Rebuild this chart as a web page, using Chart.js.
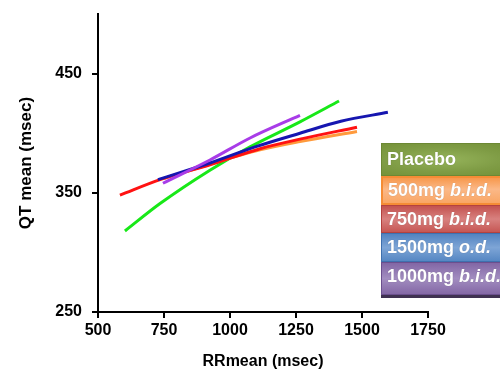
<!DOCTYPE html>
<html>
<head>
<meta charset="utf-8">
<script src="https://cdn.jsdelivr.net/npm/chart.js@4/dist/chart.umd.min.js"></script>
<style>
  html, body { margin:0; padding:0; background:#fff; overflow:hidden; }
  #wrap { position:relative; width:500px; height:374px; overflow:hidden; }
  canvas { position:absolute; left:0; top:0; }
  .lg { position:absolute; left:381px; width:140px; box-sizing:border-box;
        color:#fff; font:bold 18px Arial, "Liberation Sans", sans-serif;
        padding-left:5px; white-space:pre;
        text-shadow:0 0 1px rgba(0,0,0,0.25); }
  .lg i { font-style:italic; }
</style>
</head>
<body>
<div id="wrap">
<canvas id="c" width="500" height="374"></canvas>
<div id="legend"></div>
</div>
<script>
// ---- data ----
const xTickValues = [500, 750, 1000, 1250, 1500, 1750];
const yTickValues = [250, 350, 450];

const placeboRR = [602, 735, 924, 1076, 1265, 1413];
const placeboQT = [318, 341, 369, 388.5, 409.5, 427];

const mg500RR = [750, 924, 1114, 1265, 1481];
const mg500QT = [362, 374, 386, 393, 401.5];

const mg750RR = [583, 735, 924, 1114, 1265, 1481];
const mg750QT = [348, 361, 373.5, 387, 395, 405];

const mg1500RR = [727, 924, 1095, 1265, 1420, 1598];
const mg1500QT = [361, 375, 388.5, 400, 410, 417.5];

const mg1000RR = [746, 924, 1076, 1265];
const mg1000QT = [358, 377.5, 396, 415];

const seriesNames = ['Placebo', '500mg b.i.d.', '750mg b.i.d.', '1500mg o.d.', '1000mg b.i.d.'];

function pts(xs, ys) { return xs.map((x, i) => ({x: x, y: ys[i]})); }

const FONT = 'Arial, "Liberation Sans", sans-serif';

const ds = (label, xs, ys, color, order) => ({
  label, data: pts(xs, ys), borderColor: color, backgroundColor: color,
  borderWidth: 3, pointRadius: 0, showLine: true, tension: 0.4,
  cubicInterpolationMode: 'monotone', fill: false, order
});

new Chart(document.getElementById('c'), {
  type: 'scatter',
  data: {
    datasets: [
      ds(seriesNames[0], placeboRR, placeboQT, '#18e818', 4),
      ds(seriesNames[1], mg500RR, mg500QT, '#ff9a3c', 3),
      ds(seriesNames[2], mg750RR, mg750QT, '#ff1212', 2),
      ds(seriesNames[3], mg1500RR, mg1500QT, '#1616b0', 1),
      ds(seriesNames[4], mg1000RR, mg1000QT, '#a83ce8', 0)
    ]
  },
  options: {
    responsive: false,
    animation: false,
    devicePixelRatio: 1,
    layout: { padding: { left: 0, right: 72, top: 14, bottom: 0 } },
    plugins: { legend: { display: false }, tooltip: { enabled: false } },
    scales: {
      x: {
        type: 'linear', min: 500, max: 1750,
        afterBuildTicks: s => { s.ticks = xTickValues.map(v => ({value: v})); },
        afterFit: s => { s.height = 62; },
        ticks: { color: '#000', font: { family: FONT, size: 16, weight: 'bold' }, padding: 3, maxRotation: 0,
                 callback: v => String(v) },
        grid: { drawOnChartArea: false, drawTicks: true, tickLength: 6, color: '#000', lineWidth: 2 },
        border: { display: true, color: '#000', width: 2 },
        title: { display: true, text: 'RRmean (msec)', color: '#000',
                 font: { family: FONT, size: 16, weight: 'bold' }, padding: { top: 0, bottom: 3 } }
      },
      y: {
        type: 'linear', min: 250, max: 500,
        afterBuildTicks: s => { s.ticks = yTickValues.map(v => ({value: v})); },
        afterFit: s => { s.width = 98; s.paddingTop = 0; s.paddingBottom = 0; },
        ticks: { color: '#000', font: { family: FONT, size: 16, weight: 'bold' }, padding: 10,
                 callback: v => String(v) },
        grid: { drawOnChartArea: false, drawTicks: true, tickLength: 6, color: '#000', lineWidth: 2 },
        border: { display: true, color: '#000', width: 2 },
        title: { display: true, text: 'QT mean (msec)', color: '#000',
                 font: { family: FONT, size: 17, weight: 'bold' }, padding: { top: 16, bottom: 0 } }
      }
    }
  }
});

// legend boxes (HTML overlay)
const legendStyles = [
  { top: 143, h: 33, bg: 'radial-gradient(ellipse at 45% 50%, #95b35a 0%, #7f9c45 55%, #739036 100%)', border: '1px solid #6c8834', shadow: 'none' },
  { top: 176, h: 29, bg: 'linear-gradient(to bottom, #f7984c 0%, #fbb887 45%, #f9a665 100%)', border: '2px solid #f58c35', shadow: 'none' },
  { top: 205, h: 28, bg: 'linear-gradient(to bottom, #c3524f 0%, #d8817f 50%, #c65754 100%)', border: '1px solid #b4423f', shadow: 'none' },
  { top: 233, h: 29, bg: 'linear-gradient(to bottom, #5283c0 0%, #7ea5d6 50%, #5687c3 100%)', border: '1px solid #3f70ae', shadow: 'none' },
  { top: 262, h: 33, bg: 'linear-gradient(to bottom, #8266a5 0%, #a28dc0 50%, #8468a6 100%)', border: '1px solid #6b4f8e', shadow: '0 3px 0 #3f3151' }
];
const legendHTML = [
  'Placebo',
  '500mg <i>b.i.d.</i>',
  '750mg <i>b.i.d.</i>',
  '1500mg <i>o.d.</i>',
  '1000mg <i>b.i.d.</i>'
];
const lg = document.getElementById('legend');
legendStyles.forEach((st, i) => {
  const d = document.createElement('div');
  d.className = 'lg';
  d.style.top = st.top + 'px';
  d.style.height = st.h + 'px';
  d.style.lineHeight = (st.h - (i === 1 ? 4 : 2) - (i === 4 ? 4 : 0)) + 'px';
  d.style.background = st.bg;
  d.style.border = st.border;
  d.style.boxShadow = st.shadow;
  d.innerHTML = legendHTML[i];
  lg.appendChild(d);
});
</script>
</body>
</html>
